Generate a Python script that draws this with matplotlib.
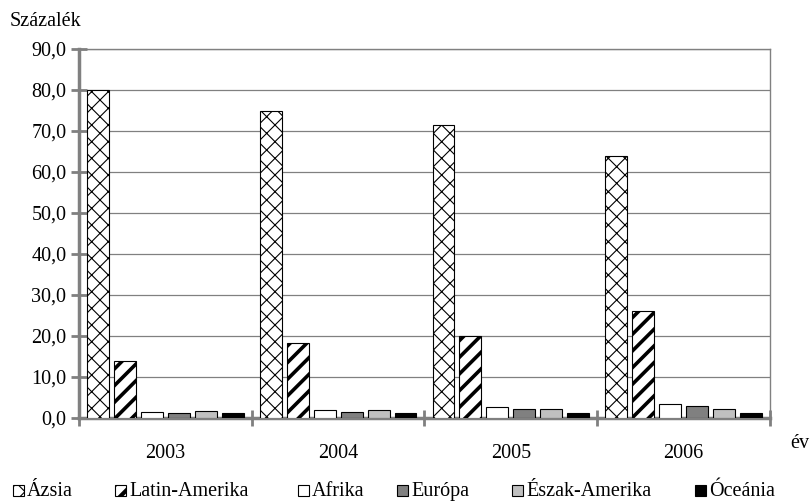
import matplotlib
matplotlib.use("Agg")
import matplotlib.pyplot as plt
import numpy as np
from matplotlib.patches import Rectangle
from matplotlib.ticker import FixedLocator, NullFormatter

plt.rcParams['font.family'] = ['Liberation Serif', 'DejaVu Serif']

years = ['2003', '2004', '2005', '2006']
regions = ['Ázsia', 'Latin-Amerika', 'Afrika', 'Európa', 'Észak-Amerika', 'Óceánia']
azsia = [80.0, 74.8, 71.5, 63.9]
latin = [14.0, 18.3, 20.1, 26.2]
afrika = [1.4, 2.0, 2.7, 3.4]
europa = [1.3, 1.4, 2.2, 2.9]
eszak = [1.6, 2.0, 2.2, 2.1]
oceania = [1.3, 1.2, 1.1, 1.2]
series = [azsia, latin, afrika, europa, eszak, oceania]

styles = [
    dict(facecolor='white', hatch='xx', edgecolor='black'),
    dict(facecolor='white', hatch='//', edgecolor='black'),
    dict(facecolor='white', edgecolor='black'),
    dict(facecolor='#808080', edgecolor='black'),
    dict(facecolor='#c0c0c0', edgecolor='black'),
    dict(facecolor='black', edgecolor='black'),
]
hatch_lw = [0.8, 2.6, 1.0, 1.0, 1.0, 1.0]

FS = 14.5
W, H = 812, 501

fig = plt.figure(figsize=(W / 100, H / 100), dpi=100)
ax = fig.add_axes([79 / W, 1 - 418 / H, 691 / W, 369 / H])

x = np.arange(len(years))
width = 0.127
step = 0.156
for i, (vals, st) in enumerate(zip(series, styles)):
    pos = x + (i - 2.5) * step
    with plt.rc_context({'hatch.linewidth': hatch_lw[i]}):
        bars = ax.bar(pos, vals, width=width, linewidth=0.8, zorder=3, **st)
    for p in bars:
        if hasattr(p, 'set_hatch_linewidth'):
            p.set_hatch_linewidth(hatch_lw[i])

ax.set_xlim(-0.5, 3.5)
ax.set_ylim(0, 90)
yt = np.arange(0, 91, 10)
ax.set_yticks(yt)
ax.set_yticklabels([f"{v:.1f}".replace('.', ',') for v in yt], fontsize=FS)
ax.yaxis.grid(True, color='#808080', linewidth=0.9, zorder=0)

# year labels centred in each group, tick marks on the group boundaries
ax.set_xticks(x)
ax.set_xticklabels(years, fontsize=FS)
ax.tick_params(axis='x', which='major', length=0, pad=19)
ax.xaxis.set_minor_locator(FixedLocator([-0.5, 0.5, 1.5, 2.5, 3.5]))
ax.xaxis.set_minor_formatter(NullFormatter())
ax.tick_params(axis='x', which='minor', length=12, width=2, direction='inout', color='#808080')
ax.tick_params(axis='y', length=12, width=2, direction='inout', color='#808080', pad=3)

for sp in ax.spines.values():
    sp.set_color('#808080')
    sp.set_linewidth(1.0)
ax.spines['left'].set_linewidth(2.5)
ax.spines['bottom'].set_linewidth(2.5)

fig.text(10 / W, 1 - 22 / H, 'Százalék', fontsize=FS, ha='left', va='center')
fig.text(790 / W, 1 - 444 / H, 'év', fontsize=FS, ha='left', va='center')

# legend row along the bottom edge
legend_x = [13, 115, 298, 397, 512, 695]
legend_lw = [0.8, 3.0, 1.0, 1.0, 1.0, 1.0]
sq = 11
for i, name in enumerate(regions):
    x0 = legend_x[i]
    lw = legend_lw[i]
    with plt.rc_context({'hatch.linewidth': lw}):
        r = Rectangle((x0 / W, 1 - 496 / H), sq / W, sq / H, transform=fig.transFigure,
                      linewidth=0.8, **styles[i])
    if hasattr(r, 'set_hatch_linewidth'):
        r.set_hatch_linewidth(lw)
    fig.add_artist(r)
    fig.text((x0 + sq + 3) / W, 1 - 496 / H, name, fontsize=FS, ha='left', va='baseline')

fig.savefig('out.png', dpi=100)
